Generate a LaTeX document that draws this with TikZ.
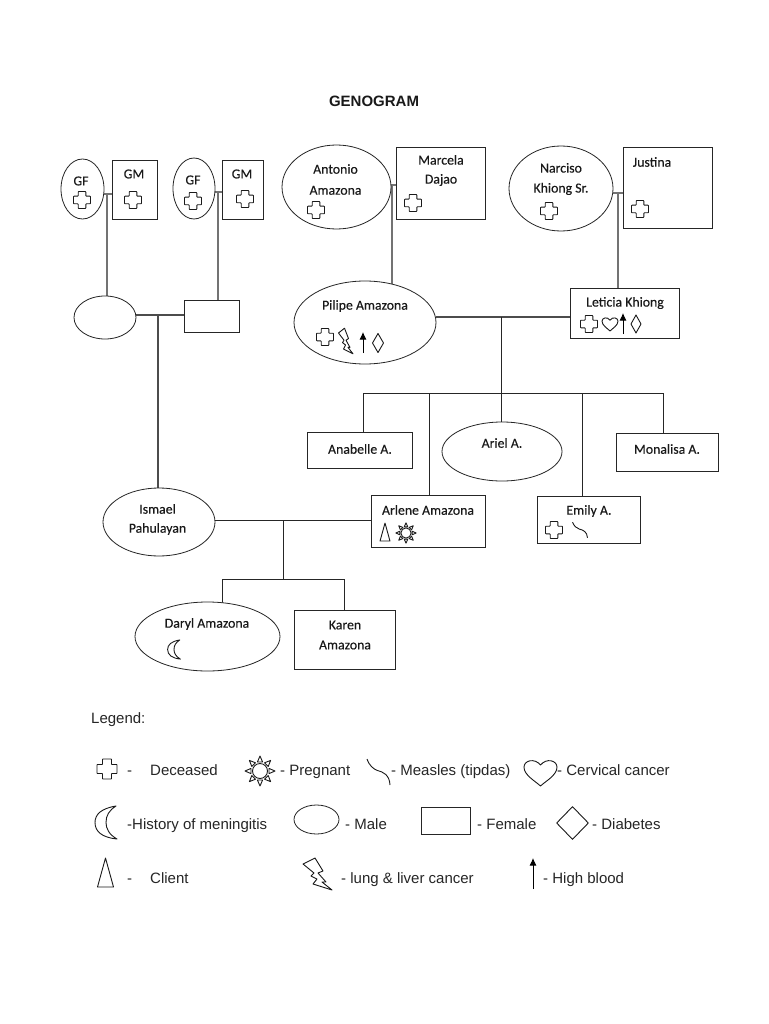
\documentclass[tikz,border=0pt]{standalone}
\usepackage{fontspec}
\setmainfont{Liberation Sans}
\newfontface\carlitofont{Carlito}[FakeBold=0.25]
\usetikzlibrary{shapes.geometric,arrows.meta}
\pgfdeclarelayer{bg}
\pgfsetlayers{bg,main}
\tikzset{
  male/.style={draw=black!85,line width=.8pt,ellipse,fill=white,inner sep=0pt,outer sep=0pt},
  female/.style={draw=black!85,line width=.8pt,rectangle,fill=white,inner sep=0pt,outer sep=0pt},
  lbl/.style={font=\carlitofont\fontsize{13.8}{15}\selectfont,text=black!90,align=center,inner sep=0pt},
  leg/.style={font=\fontsize{15}{17}\selectfont,text=black!85,anchor=base west,inner sep=0pt},
  kin/.style={draw=black!55,line width=1.1pt},
  mid/.style={draw=black!70,line width=1.1pt},
  sib/.style={draw=black!85,line width=.8pt},
  sym/.style={draw=black!90,line width=.9pt,line join=round},
  hb/.style={draw=black,line width=.9pt,-{Latex[length=7.5pt,width=7pt]}},
  crosssym/.pic={\draw[sym,rounded corners=.6pt] (-3.8,-8.5)--(3.8,-8.5)--(3.8,-3.8)--(8.5,-3.8)--(8.5,3.8)--(3.8,3.8)--(3.8,8.5)--(-3.8,8.5)--(-3.8,3.8)--(-8.5,3.8)--(-8.5,-3.8)--(-3.8,-3.8)--cycle;},
  boltsym/.pic={\draw[sym] (-15,-10)--(-3,-16)--(5,-3)--(0,-1)--(8,8)--(4,8)--(14,16)--(-5,10)--(-1,5)--(-7,2)--(-4,-1)--cycle;},
  heartsym/.pic={\draw[sym] (0,1) .. controls (-.3,.65) and (-1,.2) .. (-1,-.4) .. controls (-1,-.9) and (-.35,-1.1) .. (0,-.55) .. controls (.35,-1.1) and (1,-.9) .. (1,-.4) .. controls (1,.2) and (.3,.65) .. (0,1) -- cycle;},
  moonsym/.pic={\draw[sym] (10,-16.5) .. controls (-5,-14) and (-11,-8) .. (-11,0) .. controls (-11,9) and (-4,15) .. (11,16.5) .. controls (3,12) and (0,6) .. (0,0) .. controls (0,-7) and (3,-12) .. (10,-16.5) -- cycle;},
  clientsym/.pic={\draw[sym] (0,-14.5)--(8,14.5)--(-8,14.5)--cycle;},
  sunsym/.pic={\draw[sym] (0,0) circle (7.5);
    \foreach \a in {0,45,...,315}{\draw[sym,rotate=\a] (9,-2.6)--(15,0)--(9,2.6)--cycle;}},
  squigsym/.pic={\draw[sym] (-11.5,-13) .. controls (-9,-6) and (-5,-3) .. (-1,-1.5) .. controls (5,0) and (11,3) .. (11.5,13);},
}
\begin{document}
\begin{tikzpicture}[x=1pt,y=-1pt]
\useasboundingbox (0,0) rectangle (768,1024);
\begin{pgfonlayer}{bg}
\fill[white] (0,0) rectangle (768,1024);
\end{pgfonlayer}
\node[font=\bfseries\fontsize{15}{17}\selectfont,text=black!90,inner sep=0pt] (title) at (374,101) {GENOGRAM};

% people
\node[male,minimum width=43pt,minimum height=60pt] (gf1) at (82.5,189) {};
\node[female,minimum width=45pt,minimum height=59pt] (gm1) at (134.5,190) {};
\node[male,minimum width=42pt,minimum height=61pt] (gf2) at (194,188.5) {};
\node[female,minimum width=41pt,minimum height=59pt] (gm2) at (242.5,190) {};
\node[male,minimum width=109pt,minimum height=84pt] (antonio) at (336.5,187) {};
\node[female,minimum width=89pt,minimum height=72pt] (marcela) at (441,183.5) {};
\node[male,minimum width=104pt,minimum height=85pt] (narciso) at (561,188.5) {};
\node[female,minimum width=89pt,minimum height=81pt] (justina) at (668,188) {};
\node[male,minimum width=62pt,minimum height=43pt] (pgf) at (105,317.5) {};
\node[female,minimum width=55pt,minimum height=32pt] (pgm) at (212,316.5) {};
\node[male,minimum width=142pt,minimum height=83pt] (pilipe) at (365,322.5) {};
\node[female,minimum width=109pt,minimum height=50pt] (leticia) at (625,313.5) {};
\node[female,minimum width=105pt,minimum height=36pt] (anabelle) at (360,450.5) {};
\node[male,minimum width=120pt,minimum height=59pt] (ariel) at (502,451.5) {};
\node[female,minimum width=102pt,minimum height=38pt] (monalisa) at (667.5,452.5) {};
\node[male,minimum width=112pt,minimum height=68pt] (ismael) at (159,522) {};
\node[female,minimum width=114pt,minimum height=52pt] (arlene) at (428.5,521.5) {};
\node[female,minimum width=103pt,minimum height=47pt] (emily) at (589,520) {};
\node[male,minimum width=145pt,minimum height=69pt] (daryl) at (207.5,636.5) {};
\node[female,minimum width=101pt,minimum height=59pt] (karen) at (345,640) {};

% names
\node[lbl] (tgf1) at (81,181) {GF};
\node[lbl] (tgm1) at (134,174) {GM};
\node[lbl] (tgf2) at (193,180) {GF};
\node[lbl] (tgm2) at (242,174) {GM};
\node[lbl] (tantonio) at (335.5,179.5) {Antonio\\[6pt]Amazona};
\node[lbl] (tmarcela) at (441,170.5) {Marcela\\[4pt]Dajao};
\node[lbl] (tnarciso) at (561,179) {Narciso\\[5pt]Khiong Sr.};
\node[lbl] (tjustina) at (652,162) {Justina};
\node[lbl] (tpilipe) at (365,306) {Pilipe Amazona};
\node[lbl] (tleticia) at (625,303) {Leticia Khiong};
\node[lbl] (tanabelle) at (360,449) {Anabelle A.};
\node[lbl] (tariel) at (502,443) {Ariel A.};
\node[lbl] (tmonalisa) at (667,449) {Monalisa A.};
\node[lbl] (tismael) at (157.5,519.5) {Ismael\\[4pt]Pahulayan};
\node[lbl] (tarlene) at (428,510) {Arlene Amazona};
\node[lbl] (temily) at (589,511) {Emily A.};
\node[lbl] (tdaryl) at (207,624) {Daryl Amazona};
\node[lbl] (tkaren) at (345,635) {Karen\\[5pt]Amazona};

% junctions
\coordinate (j1) at (107,194);
\coordinate (j2) at (218,192);
\coordinate (j3) at (392,185);
\coordinate (j4) at (618,193);
\coordinate (j5) at (158,315);
\coordinate (j6) at (501,317);
\coordinate (s1) at (501,393);
\coordinate (s1l) at (363,393);
\coordinate (s1a) at (429,393);
\coordinate (s1e) at (582,393);
\coordinate (s1r) at (663,393);
\coordinate (j7) at (283,520);
\coordinate (s2) at (283,579);
\coordinate (s2l) at (222,579);
\coordinate (s2r) at (344,579);

\begin{pgfonlayer}{bg}
\draw[kin] (j1 -| gf1.east) -- (j1 -| gm1.west);
\draw[kin] (j1) -- (j1 |- pgf.north);
\draw[kin] (j2 -| gf2.east) -- (j2 -| gm2.west);
\draw[kin] (j2) -- (j2 |- pgm.north);
\draw[kin] (j3 -| antonio.east) -- (j3 -| marcela.west);
\draw[kin] (j3) -- (j3 |- pilipe.55);
\draw[kin] (j4 -| narciso.east) -- (j4 -| justina.west);
\draw[kin] (j4) -- (j4 |- leticia.north);
\draw[mid] (j5 -| pgf.east) -- (j5 -| pgm.west);
\draw[mid] (j5) -- (j5 |- ismael.north);
\draw[mid] (j6 -| pilipe.east) -- (j6 -| leticia.west);
\draw[sib] (j6) -- (s1);
\draw[sib] (s1l) -- (s1r);
\draw[sib] (s1) -- (s1 |- ariel.north);
\draw[sib] (s1l) -- (s1l |- anabelle.north);
\draw[sib] (s1a) -- (s1a |- arlene.north);
\draw[sib] (s1e) -- (s1e |- emily.north);
\draw[sib] (s1r) -- (s1r |- monalisa.north);
\draw[sib] (j7 -| ismael.east) -- (j7 -| arlene.west);
\draw[sib] (j7) -- (s2);
\draw[sib] (s2l) -- (s2r);
\draw[sib] (s2l) -- (s2l |- daryl.67);
\draw[sib] (s2r) -- (s2r |- karen.north);
\end{pgfonlayer}

% symbols in the tree
\foreach \p in {(82,200),(133,200),(193,201),(245,199),(316,210),(413,203),(549,211),(640,209),(325,337),(589,324),(554,530)}
  \pic at \p {crosssym};
\pic[xscale=.5,yscale=.8] at (346,341) {boltsym};
\draw[hb] (363,353) -- (363,332);
\draw[sym] (378,333.5)--(383.5,343)--(378,352.5)--(372.5,343)--cycle;
\pic[xscale=8,yscale=7] at (610,324) {heartsym};
\draw[hb] (623,334) -- (623,313);
\draw[sym] (636,315)--(641,324)--(636,333)--(631,324)--cycle;
\pic[scale=.62] at (385,532) {clientsym};
\pic[scale=.68] at (406,533) {sunsym};
\pic[xscale=.65,yscale=.6] at (580,530) {squigsym};
\pic[scale=.58] at (174,649.5) {moonsym};

% legend
\node[leg] (tlegend) at (91,723) {Legend:};
\pic[scale=1.18] at (107,769) {crosssym};
\node[leg] (ld1) at (127,775) {-};
\node[leg] (ld2) at (150,775) {Deceased};
\pic at (260,771) {sunsym};
\node[leg] (lp) at (280,775) {- Pregnant};
\pic at (378.5,772) {squigsym};
\node[leg] (lm) at (391,775) {- Measles (tipdas)};
\pic[xscale=16.5,yscale=13.5] at (540.5,772.5) {heartsym};
\node[leg] (lc) at (557,775) {- Cervical cancer};
\pic at (106,822.5) {moonsym};
\node[leg] (lh) at (127,829) {-History of meningitis};
\node[male,minimum width=45pt,minimum height=29pt] (lmale) at (316.5,819.5) {};
\node[leg] (lma) at (345,829) {- Male};
\node[female,minimum width=49pt,minimum height=27pt] (lfemale) at (445.5,820.5) {};
\node[leg] (lf) at (477,829) {- Female};
\node[sym,diamond,draw,inner sep=0pt,minimum width=32pt,minimum height=33pt] (ldiamond) at (572.5,823) {};
\node[leg] (ldb) at (592,829) {- Diabetes};
\pic at (105.5,872.5) {clientsym};
\node[leg] (lc1) at (127,883) {-};
\node[leg] (lc2) at (150,883) {Client};
\pic at (318,874) {boltsym};
\node[leg] (ll) at (341,883) {- lung \& liver cancer};
\draw[hb] (533,889) -- (533,858);
\node[leg] (lb) at (543,883) {- High blood};
\end{tikzpicture}
\end{document}
